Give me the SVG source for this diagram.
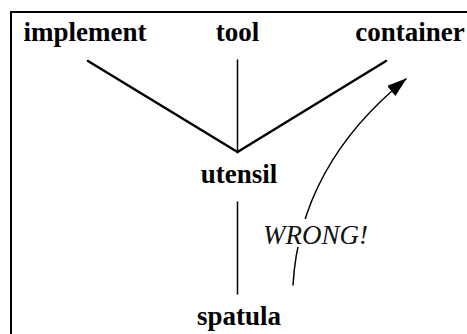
<svg xmlns="http://www.w3.org/2000/svg" width="467" height="334" viewBox="0 0 467 334">
<style>
.lbl{font-family:"Liberation Serif","Times New Roman",serif;font-weight:bold;font-size:27px;fill:#000;text-anchor:middle}
.wr{font-family:"Liberation Serif","Times New Roman",serif;font-style:italic;font-size:27px;fill:#111}
.edge{stroke:#000;fill:none;stroke-linecap:round}
</style>
<defs>
<marker id="ah" markerWidth="20" markerHeight="13" refX="19" refY="6.5" orient="auto" markerUnits="userSpaceOnUse">
<path d="M0,0 L20,6.5 L0,13 Z" fill="#000"/>
</marker>
</defs>
<rect x="0" y="0" width="467" height="334" fill="#fff"/>
<rect x="11" y="12" width="480" height="350" fill="none" stroke="#000" stroke-width="2"/>
<g id="connectors">
<line class="edge" x1="88" y1="61" x2="237.5" y2="152" stroke-width="2.5"/>
<line class="edge" x1="237.5" y1="60" x2="237.5" y2="152" stroke-width="1.5"/>
<line class="edge" x1="386" y1="61" x2="237.5" y2="152" stroke-width="2.5"/>
<line class="edge" x1="237.5" y1="202" x2="237.5" y2="294" stroke-width="1.5"/>
<path class="edge" d="M293,285 Q300,165 406,79" stroke-width="1.5" marker-end="url(#ah)"/>
<rect x="258" y="219" width="114" height="28" fill="#fff"/>
<text class="wr" x="263" y="244">WRONG!</text>
</g>
<g id="implement"><text class="lbl" x="85" y="41">implement</text></g>
<g id="tool"><text class="lbl" x="237.5" y="41">tool</text></g>
<g id="container"><text class="lbl" x="410" y="41">container</text></g>
<g id="utensil"><text class="lbl" x="239" y="183">utensil</text></g>
<g id="spatula"><text class="lbl" x="239" y="325">spatula</text></g>
</svg>
